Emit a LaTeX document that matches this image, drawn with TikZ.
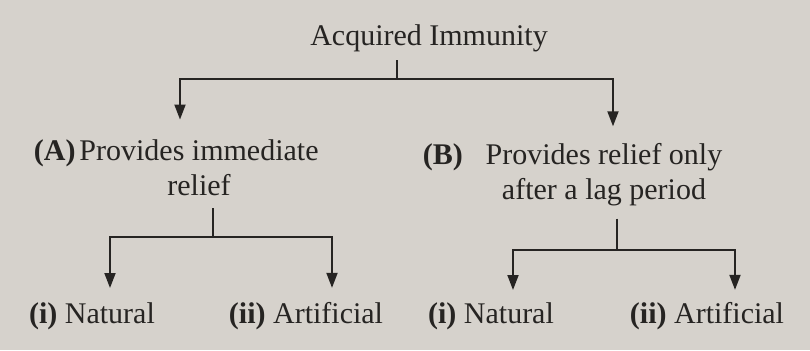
\documentclass[tikz,border=0pt]{standalone}
\usepackage{fontspec}
\setmainfont{Liberation Serif}
\usetikzlibrary{arrows.meta}
\definecolor{paper}{RGB}{214,210,204}
\definecolor{ink}{RGB}{38,36,34}
\begin{document}
\begin{tikzpicture}[x=0.5pt,y=-0.5pt,
    every node/.style={font=\fontsize{15}{17.5}\selectfont, text=ink, inner sep=0pt},
    branch/.style={draw=ink, line width=0.9pt},
    down/.style={branch, -{Triangle[length=7.5pt,width=5.5pt]}}]
    \fill[paper] (0,0) rectangle (810,350);
    % root
    \node (acq) at (429,38) {Acquired Immunity};
    % first level
    \node[align=center] (a) at (199,168) {Provides immediate\\relief};
    \node[anchor=north east] (amark) at ([xshift=-1.5pt]a.north west) {\textbf{(A)}};
    \node[align=center] (b) at (604,175) {Provides relief only\\after a lag period};
    \node[anchor=north east] (bmark) at ([xshift=-11pt]b.north west) {\textbf{(B)}};
    % second level
    \node (an) at (92,316) {\textbf{(i)} Natural};
    \node (aa) at (306,316) {\textbf{(ii)} Artificial};
    \node (bn) at (491,316) {\textbf{(i)} Natural};
    \node (ba) at (707,316) {\textbf{(ii)} Artificial};
    % junctions and arrow columns
    \coordinate (top) at (397,79);
    \coordinate (al) at (180,79);
    \coordinate (ar) at (613,79);
    \coordinate (aj) at (213,237);
    \coordinate (bj) at (617,250);
    \coordinate (c1) at (110,0);
    \coordinate (c2) at (332,0);
    \coordinate (c3) at (513,0);
    \coordinate (c4) at (735,0);
    % connectors
    \draw[branch] ([yshift=-4pt]acq.south -| top) -- (top);
    \draw[down, shorten >=10pt] (top) -| (a.north -| al);
    \draw[down, shorten >=8.5pt] (top) -| (b.north -| ar);
    \draw[branch] ([yshift=-6pt]a.south -| aj) -- (aj);
    \draw[down, shorten >=7pt] (aj) -| (an.north -| c1);
    \draw[down, shorten >=7pt] (aj) -| (aa.north -| c2);
    \draw[branch] ([yshift=-6pt]b.south -| bj) -- (bj);
    \draw[down, shorten >=6pt] (bj) -| (bn.north -| c3);
    \draw[down, shorten >=6pt] (bj) -| (ba.north -| c4);
\end{tikzpicture}
\end{document}
